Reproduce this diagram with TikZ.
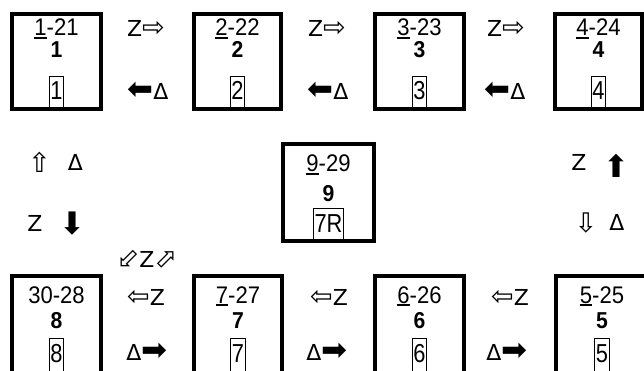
\documentclass[tikz,border=0pt]{standalone}
\usepackage{fontspec}
\usepackage{graphicx}
\setmainfont{Liberation Sans}
\newfontfamily\fa{Liberation Sans}[FakeStretch=0.92]
\newfontfamily\fc{Liberation Sans}[FakeStretch=0.84]
\newfontfamily\sym{DejaVu Sans}
\newcommand\ulfirst[1]{\setbox0\hbox{#1}\rlap{\rule[-3.3pt]{\wd0}{2pt}}\box0}
\newcommand\ho[1]{{\fontsize{27}{27}\selectfont #1}}
\newcommand\hv[1]{{\fontsize{31}{31}\selectfont #1}}
\tikzset{
 bx/.style={draw, line width=4pt, inner sep=0pt},
 la/.style={anchor=base, inner sep=0pt, font=\fa\fontsize{24}{24}\selectfont},
 lb/.style={anchor=base, inner sep=0pt, font=\fa\bfseries\fontsize{23}{23}\selectfont},
 lc/.style={anchor=base, draw, line width=0.9pt, inner xsep=1pt, inner ysep=0pt, font=\fc\fontsize{26}{26}\selectfont},
 sy/.style={anchor=base, inner sep=0pt, font=\sym\fontsize{22}{22}\selectfont},
 sc/.style={anchor=center, inner sep=0pt, font=\sym\fontsize{22}{22}\selectfont},
}
\begin{document}
\begin{tikzpicture}[x=1pt,y=-1pt]
\path[use as bounding box] (0,0) rectangle (644,371);
\begin{scope}
\clip (0,0) rectangle (644,371);
% top row boxes
\node[bx, minimum width=89pt, minimum height=95pt] (b1) at (56.5,61.5) {};
\node[bx, minimum width=87pt, minimum height=95pt] (b2) at (237.5,61.5) {};
\node[bx, minimum width=89pt, minimum height=95pt] (b3) at (419.5,61.5) {};
\node[bx, minimum width=87pt, minimum height=95pt] (b4) at (598.5,61.5) {};
% centre box
\node[bx, minimum width=91pt, minimum height=97pt] (b9) at (328.5,192.5) {};
% bottom row boxes (open below)
\node[bx, minimum width=89pt, minimum height=144pt] (b8) at (56.5,348) {};
\node[bx, minimum width=88pt, minimum height=144pt] (b7) at (238,348) {};
\node[bx, minimum width=89pt, minimum height=144pt] (b6) at (419.5,348) {};
\node[bx, minimum width=92pt, minimum height=144pt] (b5) at (602,348) {};

% top row texts
\node[la] (t1a) at (56.5,36) {\ulfirst{1}-21};
\node[lb] (t1b) at (56.5,58) {1};
\node[lc, text height=24pt, text depth=9pt] (t1c) at (56.5,100) {1};
\node[la] (t2a) at (237.5,36) {\ulfirst{2}-22};
\node[lb] (t2b) at (237.5,58) {2};
\node[lc, text height=24pt, text depth=9pt] (t2c) at (237.5,100) {2};
\node[la] (t3a) at (419.5,36) {\ulfirst{3}-23};
\node[lb] (t3b) at (419.5,58) {3};
\node[lc, text height=24pt, text depth=9pt] (t3c) at (419.5,100) {3};
\node[la] (t4a) at (598.5,36) {\ulfirst{4}-24};
\node[lb] (t4b) at (598.5,58) {4};
\node[lc, text height=24pt, text depth=9pt] (t4c) at (598.5,100) {4};

% centre texts
\node[la] (t9a) at (328.5,172) {\ulfirst{9}-29};
\node[lb] (t9b) at (328.5,202) {9};
\node[lc, text height=25pt, text depth=8pt] (t9c) at (328.5,233) {7R};

% bottom row texts
\node[la] (t8a) at (56.5,303) {30-28};
\node[lb] (t8b) at (56.5,328) {8};
\node[lc, text height=24pt, text depth=20pt] (t8c) at (56.5,362) {8};
\node[la] (t7a) at (238,303) {\ulfirst{7}-27};
\node[lb] (t7b) at (238,328) {7};
\node[lc, text height=24pt, text depth=20pt] (t7c) at (238,362) {7};
\node[la] (t6a) at (419.5,303) {\ulfirst{6}-26};
\node[lb] (t6b) at (419.5,328) {6};
\node[lc, text height=24pt, text depth=20pt] (t6c) at (419.5,362) {6};
\node[la] (t5a) at (602,303) {\ulfirst{5}-25};
\node[lb] (t5b) at (602,328) {5};
\node[lc, text height=24pt, text depth=20pt] (t5c) at (602,362) {5};

% top row labels
\node[sy] (z12) at (146,37) {Z\ho{⇨}};
\node[sy] (d12) at (148,100) {\hv{⬅}Δ};
\node[sy] (z23) at (327,37) {Z\ho{⇨}};
\node[sy] (d23) at (328,100) {\hv{⬅}Δ};
\node[sy] (z34) at (506,37) {Z\ho{⇨}};
\node[sy] (d34) at (505,100) {\hv{⬅}Δ};

% left column labels
\node[sc] (lu) at (39.5,162.5) {\ho{⇧}};
\node[sc] (ld) at (75.5,162.5) {Δ};
\node[sc] (lz) at (35,223.5) {Z};
\node[sc] (la) at (72,223.5) {\hv{⬇}};
% right column labels
\node[sc] (rz) at (579,162.5) {Z};
\node[sc] (ra) at (616.5,166) {\hv{⬆}};
\node[sc] (rd) at (586,222.5) {\ho{⇩}};
\node[sc] (rdl) at (617,222.5) {Δ};

% diagonal label
\node[sy] (dz) at (147,267) {\ho{⬃}Z\ho{⬀}};

% bottom row labels
\node[sy] (z87) at (146,305) {\ho{⇦}Z};
\node[sy] (d87) at (147,360) {Δ\hv{➡}};
\node[sy] (z76) at (329,305) {\ho{⇦}Z};
\node[sy] (d76) at (327,360) {Δ\hv{➡}};
\node[sy] (z65) at (510,305) {\ho{⇦}Z};
\node[sy] (d65) at (507,360) {Δ\hv{➡}};
\end{scope}
\end{tikzpicture}
\end{document}
